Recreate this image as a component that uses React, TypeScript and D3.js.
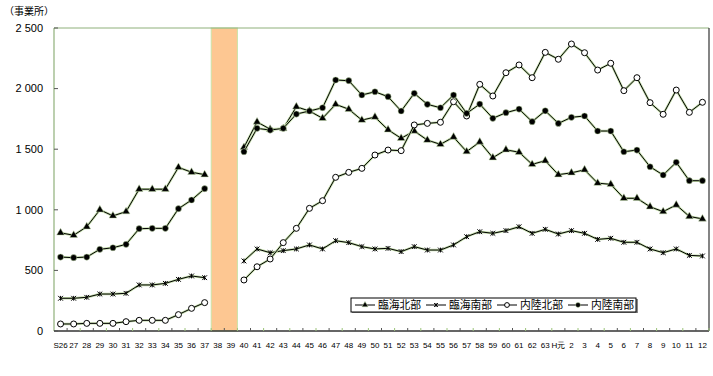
import React from "react";
import * as d3 from "d3";

const categories = [
  "S26","27","28","29","30","31","32","33","34","35","36","37","38","39",
  "40","41","42","43","44","45","46","47","48","49","50","51","52","53","54","55",
  "56","57","58","59","60","61","62","63","H元","2","3","4","5","6","7","8","9","10","11","12",
];

const rinkaiNorth = [810,790,860,1000,950,985,1170,1170,1170,1350,1310,1290,null,null,
  1515,1725,1665,1670,1850,1815,1755,1870,1830,1740,1765,1660,1590,1650,1575,1540,
  1600,1480,1560,1430,1495,1475,1375,1405,
  1290,1305,1330,1220,1210,1095,1095,1025,985,1040,945,925];
const rinkaiSouth = [270,270,278,305,305,311,380,380,393,426,454,440,null,null,
  578,677,646,663,677,710,677,745,729,696,677,682,655,696,668,668,
  710,778,819,806,828,860,806,839,
  800,828,806,756,765,732,732,677,646,677,624,619];
const nairikuNorth = [58,58,63,63,63,77,88,88,88,135,187,234,null,null,
  421,530,594,729,847,1012,1075,1268,1309,1342,1452,1493,1488,1700,1713,1722,
  1892,1774,2035,1939,2131,2195,2090,2299,
  2242,2368,2296,2153,2209,1983,2090,1884,1788,1988,1804,1887];
const nairikuSouth = [610,605,610,674,687,715,844,847,847,1009,1081,1174,null,null,
  1479,1672,1658,1672,1790,1815,1842,2071,2065,1947,1974,1933,1815,1961,1870,1842,
  1947,1796,1872,1755,1801,1831,1727,1817,
  1713,1763,1774,1650,1650,1479,1493,1355,1287,1392,1240,1240];

const seriesNames = ["臨海北部", "臨海南部", "内陸北部", "内陸南部"];
const yTicks = [0, 500, 1000, 1500, 2000, 2500];
const yTickLabels = ["0", "500", "1 000", "1 500", "2 000", "2 500"];
const gapCategories = ["38", "39"];

type Kind = "tri" | "star" | "open" | "fill";
const series: { name: string; values: (number | null)[]; kind: Kind }[] = [
  { name: seriesNames[0], values: rinkaiNorth, kind: "tri" },
  { name: seriesNames[1], values: rinkaiSouth, kind: "star" },
  { name: seriesNames[2], values: nairikuNorth, kind: "open" },
  { name: seriesNames[3], values: nairikuSouth, kind: "fill" },
];

const W = 713, H = 376;
const L = 54, R = 709, T = 28, B = 331;
const FONT = "'Noto Sans CJK JP', 'Liberation Sans', sans-serif";
const HALO = "#c3dcaa";

function Marker({ kind, x, y, k = 1 }: { kind: Kind; x: number; y: number; k?: number }) {
  if (kind === "tri") {
    const p = d3.symbol(d3.symbolTriangle, 26 * k * k)();
    return <path d={p || ""} transform={`translate(${x},${y})`} fill="#000" stroke={HALO} strokeWidth={0.5} />;
  }
  if (kind === "star") {
    const s = 2.4 * k;
    return (
      <g transform={`translate(${x},${y})`} stroke="#000" strokeWidth={1}>
        <line x1={-s} y1={-s} x2={s} y2={s} />
        <line x1={-s} y1={s} x2={s} y2={-s} />
        <line x1={0} y1={-s} x2={0} y2={s} />
      </g>
    );
  }
  if (kind === "open") {
    return <circle cx={x} cy={y} r={3 * k} fill="#fff" stroke="#000" strokeWidth={1} />;
  }
  return <circle cx={x} cy={y} r={3.1 * k} fill="#000" stroke={HALO} strokeWidth={0.5} />;
}

export default function App() {
  const x = d3.scaleBand<string>().domain(categories).range([L, R]).padding(0);
  const y = d3.scaleLinear().domain([0, 2500]).range([B, T]);
  const cx = (c: string) => (x(c) as number) + x.bandwidth() / 2;

  const line = d3
    .line<{ c: string; v: number | null }>()
    .defined((d) => d.v !== null)
    .x((d) => cx(d.c))
    .y((d) => y(d.v as number));

  const gapX0 = x(gapCategories[0]) as number;
  const gapX1 = (x(gapCategories[1]) as number) + x.bandwidth();

  const legendItems = [
    { kind: "tri" as Kind, lx: 355, tx: 378 },
    { kind: "star" as Kind, lx: 426, tx: 449 },
    { kind: "open" as Kind, lx: 497, tx: 520 },
    { kind: "fill" as Kind, lx: 568, tx: 591 },
  ];

  return (
    <svg width={W} height={H} style={{ display: "block", position: "absolute", left: 0, top: 0 }} fontFamily={FONT}>
      <rect x={0} y={0} width={W} height={H} fill="#fff" />
      <rect x={gapX0} y={T} width={gapX1 - gapX0} height={B - T} fill="#fdc792" stroke="#c9e3a8" strokeWidth={1} />
      <line x1={L} y1={T} x2={R} y2={T} stroke="#8fb07a" strokeWidth={1} />
      <line x1={L} y1={T} x2={L} y2={B} stroke="#8fb07a" strokeWidth={1.2} />
      <line x1={R} y1={T} x2={R} y2={B} stroke="#333" strokeWidth={1.2} />
      <line x1={L} y1={B} x2={R} y2={B} stroke="#333" strokeWidth={1.4} />
      {yTicks.map((t, i) => (
        <g key={t}>
          <line x1={L} x2={L + 4} y1={y(t)} y2={y(t)} stroke="#555" strokeWidth={1} />
          <text x={43} y={y(t)} dy="0.35em" textAnchor="end" fontSize={11} fill="#000" fontFamily="'Liberation Sans', Arial, sans-serif">
            {yTickLabels[i]}
          </text>
        </g>
      ))}
      <text x={4} y={15} fontSize={10} fill="#000">（事業所）</text>
      {categories.map((c, i) => (
        <line key={"t" + c} x1={(x(c) as number) + x.bandwidth()} x2={(x(c) as number) + x.bandwidth()} y1={B} y2={B - 3}
          stroke={i % 2 === 0 ? "#555" : "#9cc47a"} strokeWidth={1} />
      ))}
      {categories.map((c) => (
        <text key={"l" + c} x={cx(c)} y={348} textAnchor="middle" fontSize={8} fill="#000" fontFamily="'Liberation Sans', Arial, sans-serif">
          {c}
        </text>
      ))}
      {series.map((s) => {
        const data = categories.map((c, i) => ({ c, v: s.values[i] }));
        const d = line(data) || "";
        return (
          <g key={s.name}>
            <path d={d} fill="none" stroke={HALO} strokeWidth={2.4} strokeLinejoin="round" />
            <path d={d} fill="none" stroke="#000" strokeWidth={1} strokeLinejoin="round" />
            {data.filter((p) => p.v !== null).map((p) => (
              <Marker key={p.c} kind={s.kind} x={cx(p.c)} y={y(p.v as number)} />
            ))}
          </g>
        );
      })}
      <rect x={352} y={299} width={286} height={14} fill="#888" />
      <rect x={351} y={298} width={285} height={14} fill="#fff" stroke="#000" strokeWidth={1} />
      {legendItems.map((it, i) => (
        <g key={i}>
          <line x1={it.lx} x2={it.lx + 20} y1={305} y2={305} stroke="#000" strokeWidth={1} />
          <Marker kind={it.kind} x={it.lx + 10} y={305} k={0.8} />
          <text x={it.tx} y={305} dy="0.36em" fontSize={11} textLength={43} lengthAdjust="spacingAndGlyphs" fill="#000">{seriesNames[i]}</text>
        </g>
      ))}
    </svg>
  );
}
